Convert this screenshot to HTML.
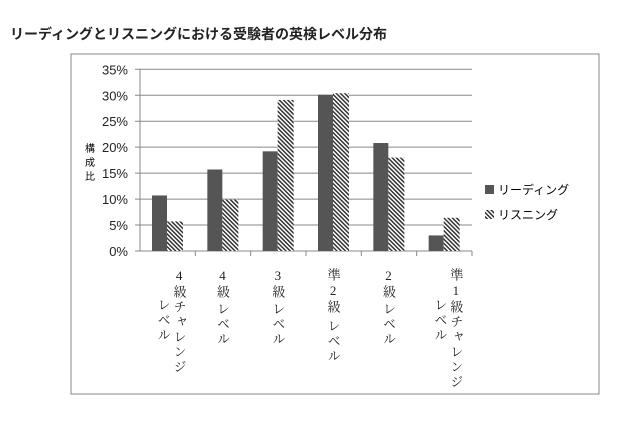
<!DOCTYPE html>
<html><head><meta charset="utf-8"><style>
body{margin:0;background:#fff;width:640px;height:422px;overflow:hidden;position:relative;font-family:"Liberation Sans","Noto Sans CJK JP",sans-serif}
.t{position:absolute;left:10px;top:24px;font-size:14px;font-weight:bold;color:#222}
.v{position:absolute;writing-mode:vertical-rl;text-orientation:upright;font-family:"Liberation Serif","Noto Serif CJK JP",serif;font-size:13px;line-height:15px;letter-spacing:2px;color:#222}
</style></head><body>
<div class="t">リーディングとリスニングにおける受験者の英検レベル分布</div>
<svg width="640" height="422" style="position:absolute;left:0;top:0" id="c">
<defs><pattern id="h" width="3" height="3" patternUnits="userSpaceOnUse" patternTransform="rotate(-45)"><rect width="3" height="3" fill="#fff"/><rect width="1.5" height="3" fill="#333"/></pattern></defs>
<rect x="71" y="54" width="528" height="340" fill="none" stroke="#888"/>
<g id="g"></g>
<text x="85" y="152" font-size="10">構</text>
<text x="85" y="166" font-size="10">成</text>
<text x="85" y="180" font-size="10">比</text>
<rect x="485" y="185" width="9" height="9" fill="#555"/>
<text x="498" y="194" font-size="12">リーディング</text>
<rect x="485" y="210" width="9" height="9" fill="url(#h)"/>
<text x="498" y="219" font-size="12">リスニング</text>
</svg>
<div id="labels"></div>
<script>
const categories=["4級チャレンジ|レベル","4級|レベル","3級|レベル","準2級|レベル","2級|レベル","準1級チャレンジ|レベル"];
const reading=[10.7,15.7,19.2,30.1,20.8,3.0];
const listening=[5.7,9.9,29.1,30.4,18.0,6.4];
const ticks=[0,5,10,15,20,25,30,35];
const NS="http://www.w3.org/2000/svg",g=document.getElementById('g');
const x0=140,x1=472,yB=251,yT=69.3,cw=(x1-x0)/categories.length;
const y=v=>yB-(v/35)*(yB-yT);
function mk(t,a){const e=document.createElementNS(NS,t);for(const k in a)e.setAttribute(k,a[k]);g.appendChild(e);return e;}
ticks.forEach(t=>{
 const l=mk('line',{x1:x0-5,x2:x1,y1:y(t),y2:y(t),stroke:'#888'});
 
 
 const tx=mk('text',{x:x0-12,y:y(t)+5,'font-size':13,'text-anchor':'end',fill:'#222'});tx.textContent=t+'%';
 
 
});
mk('line',{x1:x0,x2:x0,y1:yT,y2:yB,stroke:'#888'});
const lab=document.getElementById('labels');
categories.forEach((c,i)=>{
 const cx=x0+i*cw;
 mk('line',{x1:cx+cw,x2:cx+cw,y1:yB,y2:yB+5,stroke:'#888'});
 const r=mk('rect',{x:cx+12,y:y(reading[i]),width:15,height:yB-y(reading[i]),fill:'#555'});
 
 
 const h=mk('rect',{x:cx+27,y:y(listening[i]),width:16,height:yB-y(listening[i]),fill:'url(#h)'});
 
 
 const [a,b]=c.split('|');
 const d1=document.createElement('div');d1.className='v';d1.textContent=a;
 d1.style.left=(cx+cw/2+(i==0||i==5?12:0)-8)+'px';d1.style.top='268px';
 
 
 lab.appendChild(d1);
 const d2=document.createElement('div');d2.className='v';d2.textContent=b;
 const off=a.length;
 if(i==0||i==5){d2.style.left=(cx+cw/2-4-8)+'px';d2.style.top='298px';}
 else{d2.style.left=(cx+cw/2-8)+'px';d2.style.top=(268+off*17)+'px';}
 
 
 lab.appendChild(d2);
});
</script>
</body></html>
